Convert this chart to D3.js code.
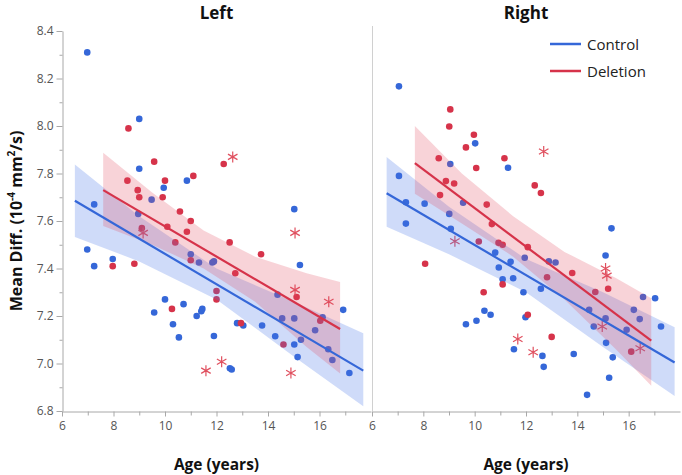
<!DOCTYPE html>
<html>
<head>
<meta charset="utf-8">
<script src="https://cdn.jsdelivr.net/npm/d3@7"></script>
<style>
  html, body { margin: 0; padding: 0; background: #fff; }
  svg { display: block; font-family: "Open Sans", "Noto Sans", sans-serif; }
</style>
</head>
<body>
<svg id="chart" width="682" height="475"></svg>
<script>
// ---------------- DATA ----------------
const panels = ["Left", "Right"];
const yTicks = [6.8, 7.0, 7.2, 7.4, 7.6, 7.8, 8.0, 8.2, 8.4];
const xTicks = [6, 8, 10, 12, 14, 16];
const legendLabels = ["Control", "Deletion"];

// Left panel – Control (age, mean diffusivity)
const leftControlAge = [6.98, 9.0, 9.0, 9.95, 10.85, 9.48, 7.25, 8.96, 6.98, 7.25, 7.97, 11.0, 11.32, 11.84, 11.9, 10.0, 10.72, 9.58, 11.23, 11.41, 11.45, 10.31, 10.54, 11.9, 15.02, 15.24, 14.37, 16.92, 14.55, 15.02, 16.12, 15.83, 12.8, 13.04, 13.77, 14.28, 15.02, 15.28, 16.34, 16.5, 15.15, 12.52, 12.59, 17.16];
const leftControlMD  = [8.31, 8.03, 7.82, 7.74, 7.77, 7.69, 7.67, 7.63, 7.48, 7.41, 7.44, 7.46, 7.425, 7.425, 7.43, 7.27, 7.25, 7.215, 7.20, 7.22, 7.23, 7.165, 7.11, 7.116, 7.65, 7.415, 7.29, 7.226, 7.19, 7.19, 7.195, 7.14, 7.17, 7.16, 7.16, 7.115, 7.08, 7.10, 7.06, 7.015, 7.027, 6.98, 6.975, 6.96];
// Left panel – Deletion (dots)
const leftDeletionAge = [8.58, 9.58, 8.54, 10.0, 11.1, 8.94, 9.0, 9.91, 10.58, 11.0, 9.1, 10.09, 10.85, 10.4, 7.97, 8.81, 11.0, 12.0, 12.0, 10.27, 12.28, 12.51, 13.73, 12.73, 15.11, 16.03, 12.95, 14.6];
const leftDeletionMD  = [7.99, 7.85, 7.77, 7.77, 7.79, 7.73, 7.70, 7.70, 7.64, 7.60, 7.57, 7.576, 7.555, 7.51, 7.41, 7.42, 7.435, 7.305, 7.27, 7.23, 7.84, 7.51, 7.46, 7.38, 7.28, 7.18, 7.17, 7.08];
// Left panel – Deletion (asterisks)
const leftStarAge = [9.15, 11.59, 12.63, 15.05, 15.05, 16.36, 12.2, 14.89];
const leftStarMD  = [7.55, 6.97, 7.87, 7.55, 7.31, 7.26, 7.007, 6.96];

// Right panel – Control
const rightControlAge = [7.05, 10.02, 11.3, 9.05, 7.05, 7.32, 8.05, 9.55, 9.01, 7.32, 9.07, 10.8, 11.4, 10.94, 11.95, 11.09, 11.5, 11.9, 10.38, 10.62, 10.07, 9.66, 11.98, 11.53, 15.33, 12.89, 13.15, 15.1, 12.58, 16.56, 17.03, 16.2, 14.46, 16.43, 15.1, 14.64, 15.92, 17.26, 15.12, 12.64, 12.69, 13.86, 15.38, 15.24, 14.38];
const rightControlMD  = [8.167, 7.927, 7.824, 7.84, 7.79, 7.679, 7.673, 7.677, 7.63, 7.589, 7.567, 7.467, 7.428, 7.404, 7.445, 7.355, 7.359, 7.30, 7.222, 7.205, 7.18, 7.165, 7.195, 7.06, 7.569, 7.43, 7.425, 7.455, 7.315, 7.28, 7.275, 7.226, 7.226, 7.187, 7.19, 7.156, 7.142, 7.156, 7.087, 7.032, 6.986, 7.04, 7.026, 6.94, 6.868];
// Right panel – Deletion (dots)
const rightDeletionAge = [9.05, 9.01, 9.97, 9.66, 11.16, 10.06, 8.6, 8.88, 9.2, 8.65, 10.47, 10.67, 10.16, 10.93, 11.09, 12.07, 11.09, 8.07, 10.35, 12.07, 13.8, 12.82, 14.7, 15.2, 13.0, 16.1, 12.34, 12.58];
const rightDeletionMD  = [8.07, 7.998, 7.963, 7.91, 7.864, 7.823, 7.864, 7.768, 7.758, 7.709, 7.669, 7.587, 7.514, 7.508, 7.5, 7.49, 7.333, 7.42, 7.30, 7.205, 7.381, 7.363, 7.301, 7.315, 7.112, 7.05, 7.75, 7.718];
// Right panel – Deletion (asterisks)
const rightStarAge = [9.23, 11.68, 15.1, 15.15, 14.97, 12.28, 16.45, 12.69];
const rightStarMD  = [7.515, 7.103, 7.40, 7.37, 7.156, 7.047, 7.064, 7.893];

// Fit lines (age, value) at start/end
const leftControlFitAge = [6.5, 17.7];
const leftControlFitMD  = [7.685, 6.970];
const leftDeletionFitAge = [7.6, 16.8];
const leftDeletionFitMD  = [7.730, 7.145];
const rightControlFitAge = [6.57, 17.79];
const rightControlFitMD  = [7.717, 7.004];
const rightDeletionFitAge = [7.67, 16.88];
const rightDeletionFitMD  = [7.844, 7.096];

// Confidence bands (age, lower, upper)
const leftControlBandAge = [6.5, 9, 12, 15, 17.7];
const leftControlBandLo  = [7.533, 7.43, 7.27, 7.03, 6.82];
const leftControlBandHi  = [7.838, 7.62, 7.40, 7.26, 7.127];
const leftDeletionBandAge = [7.6, 9.5, 11.5, 13.5, 15.5, 16.8];
const leftDeletionBandLo  = [7.579, 7.50, 7.40, 7.26, 7.07, 6.958];
const leftDeletionBandHi  = [7.887, 7.72, 7.56, 7.45, 7.38, 7.343];
const rightControlBandAge = [6.57, 9, 12, 15, 17.79];
const rightControlBandLo  = [7.576, 7.46, 7.30, 7.07, 6.863];
const rightControlBandHi  = [7.87, 7.66, 7.44, 7.30, 7.153];
const rightDeletionBandAge = [7.67, 9.5, 11.5, 13.5, 15.5, 16.88];
const rightDeletionBandLo  = [7.715, 7.59, 7.45, 7.27, 7.06, 6.906];
const rightDeletionBandHi  = [8.0, 7.80, 7.62, 7.47, 7.36, 7.275];

// ---------------- DRAW ----------------
const BLUE = "#3567d8", RED = "#d6334a", STAR = "#e0505f";
const svg = d3.select("#chart");
const y = d3.scaleLinear().domain([6.8, 8.4]).range([411, 31]);
const xs = [
  d3.scaleLinear().domain([6, 18]).range([62, 371]),
  d3.scaleLinear().domain([6, 18]).range([372, 680])
];

const zip = (a, b) => a.map((v, i) => [v, b[i]]);
const sets = [
  { ca: leftControlAge, cm: leftControlMD, da: leftDeletionAge, dm: leftDeletionMD, sa: leftStarAge, sm: leftStarMD,
    cfa: leftControlFitAge, cfm: leftControlFitMD, dfa: leftDeletionFitAge, dfm: leftDeletionFitMD,
    cba: leftControlBandAge, cbl: leftControlBandLo, cbh: leftControlBandHi,
    dba: leftDeletionBandAge, dbl: leftDeletionBandLo, dbh: leftDeletionBandHi },
  { ca: rightControlAge, cm: rightControlMD, da: rightDeletionAge, dm: rightDeletionMD, sa: rightStarAge, sm: rightStarMD,
    cfa: rightControlFitAge, cfm: rightControlFitMD, dfa: rightDeletionFitAge, dfm: rightDeletionFitMD,
    cba: rightControlBandAge, cbl: rightControlBandLo, cbh: rightControlBandHi,
    dba: rightDeletionBandAge, dbl: rightDeletionBandLo, dbh: rightDeletionBandHi }
];

// separator
svg.append("line").attr("x1", 372.5).attr("x2", 372.5).attr("y1", 26).attr("y2", 411)
  .attr("stroke", "#d0d0d0").attr("stroke-width", 1);

// Y axis
const yMinor = d3.range(6.9, 8.4, 0.2).map(v => +v.toFixed(1));
const gy = svg.append("g").attr("transform", "translate(62.5,0)");
gy.call(d3.axisLeft(y).tickValues(yTicks).tickFormat(d3.format(".1f")).tickSize(6).tickSizeOuter(0).tickPadding(3));
const gym = svg.append("g").attr("transform", "translate(62.5,0)");
gym.call(d3.axisLeft(y).tickValues(yMinor).tickFormat("").tickSize(3).tickSizeOuter(0));
gym.select(".domain").remove();

// X axes
xs.forEach((x, i) => {
  const g = svg.append("g").attr("transform", "translate(0,411.5)");
  g.call(d3.axisBottom(x).tickValues(xTicks).tickFormat(d3.format("d")).tickSize(5).tickSizeOuter(0).tickPadding(5));
  const gm = svg.append("g").attr("transform", "translate(0,411.5)");
  gm.call(d3.axisBottom(x).tickValues([7, 9, 11, 13, 15, 17]).tickFormat("").tickSize(4).tickSizeOuter(0));
  gm.select(".domain").remove();
});
svg.selectAll(".domain").attr("stroke", "#a8a8a8");
svg.selectAll(".tick line").attr("stroke", "#a8a8a8");
svg.selectAll(".tick text").attr("fill", "#555").attr("font-size", 12)
  .attr("font-family", "'Open Sans', sans-serif");

// Panels
const starPath = (r) => {
  let p = "";
  [90, 30, 150].forEach(a => {
    const rad = a * Math.PI / 180, dx = r * Math.cos(rad), dy = r * Math.sin(rad);
    p += `M${-dx},${-dy}L${dx},${dy}`;
  });
  return p;
};

sets.forEach((s, i) => {
  const x = xs[i];
  const g = svg.append("g");
  // points
  g.selectAll("circle.c").data(zip(s.ca, s.cm)).join("circle")
    .attr("cx", d => x(d[0])).attr("cy", d => y(d[1])).attr("r", 3.3).attr("fill", BLUE);
  g.selectAll("circle.d").data(zip(s.da, s.dm)).join("circle").attr("class", "d")
    .attr("cx", d => x(d[0])).attr("cy", d => y(d[1])).attr("r", 3.3).attr("fill", RED);
  g.selectAll("path.s").data(zip(s.sa, s.sm)).join("path").attr("class", "s")
    .attr("transform", d => `translate(${x(d[0])},${y(d[1])})`)
    .attr("d", starPath(5.5)).attr("stroke", STAR).attr("stroke-width", 1.2).attr("fill", "none");
  // bands
  const area = d3.area().x(d => x(d[0])).y0(d => y(d[1])).y1(d => y(d[2])).curve(d3.curveLinear);
  g.append("path").datum(s.cba.map((a, k) => [a, s.cbl[k], s.cbh[k]]))
    .attr("d", area).attr("fill", "rgb(70,115,230)").attr("fill-opacity", 0.26);
  g.append("path").datum(s.dba.map((a, k) => [a, s.dbl[k], s.dbh[k]]))
    .attr("d", area).attr("fill", "rgb(225,70,90)").attr("fill-opacity", 0.24);
  // fit lines
  const line = d3.line().x(d => x(d[0])).y(d => y(d[1]));
  g.append("path").datum(zip(s.cfa, s.cfm)).attr("d", line).attr("stroke", BLUE).attr("stroke-width", 2.2).attr("fill", "none");
  g.append("path").datum(zip(s.dfa, s.dfm)).attr("d", line).attr("stroke", RED).attr("stroke-width", 2.2).attr("fill", "none");
  // title
  svg.append("text").attr("x", (x.range()[0] + x.range()[1]) / 2).attr("y", 19)
    .attr("text-anchor", "middle").attr("font-weight", "bold").attr("font-size", 17)
    .attr("fill", "#111").text(panels[i]);
  // x label
  svg.append("text").attr("x", (x.range()[0] + x.range()[1]) / 2).attr("y", 470)
    .attr("text-anchor", "middle").attr("font-weight", "bold").attr("font-size", 15.5)
    .attr("fill", "#111").text("Age (years)");
});

// Y label
const yl = svg.append("text").attr("transform", "translate(22,221) rotate(-90)")
  .attr("text-anchor", "middle").attr("font-weight", "bold").attr("font-size", 16).attr("fill", "#111");
yl.append("tspan").text("Mean Diff. (10");
yl.append("tspan").attr("font-size", 10).attr("dy", -7).text("-4");
yl.append("tspan").attr("dy", 7).text(" mm");
yl.append("tspan").attr("font-size", 10).attr("dy", -7).text("2");
yl.append("tspan").attr("dy", 7).text("/s)");

// Legend
const lg = svg.append("g");
[BLUE, RED].forEach((c, k) => {
  const ly = 44 + k * 27;
  lg.append("line").attr("x1", 550).attr("x2", 581).attr("y1", ly).attr("y2", ly)
    .attr("stroke", c).attr("stroke-width", 2.5);
  lg.append("text").attr("x", 587).attr("y", ly + 5.5).attr("font-size", 15)
    .attr("fill", "#222").text(legendLabels[k]);
});
</script>
</body>
</html>
